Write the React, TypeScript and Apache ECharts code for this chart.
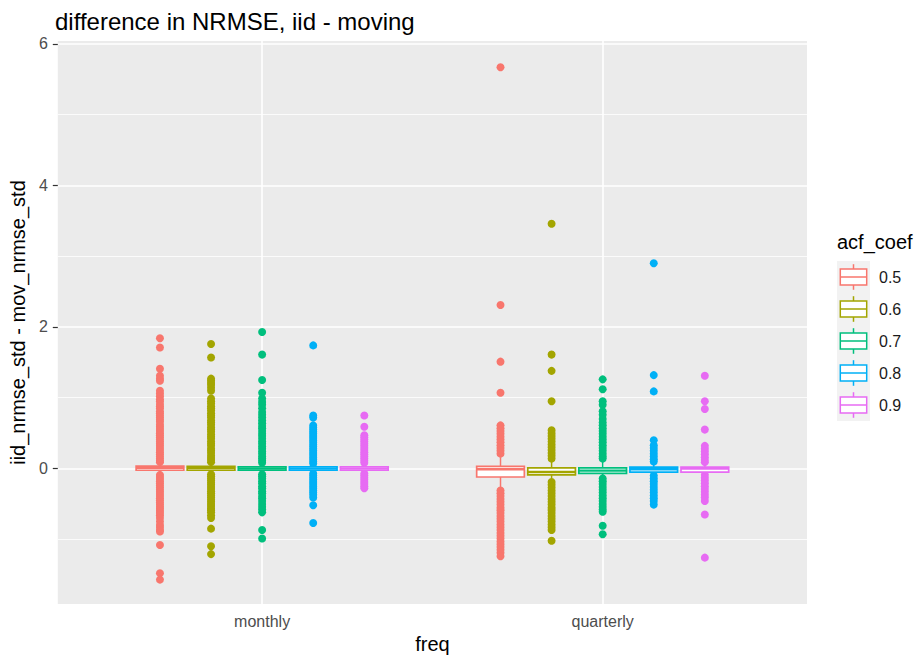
import React, { useEffect, useRef } from "react";
import * as echarts from "echarts";

// ---------- data ----------
const freqCategories = ["monthly", "quarterly"];
const acfLevels = ["0.5", "0.6", "0.7", "0.8", "0.9"];
const levelColors = ["#F8766D", "#A3A500", "#00BF7D", "#00B0F6", "#E76BF3"];
const yMajorTicks = [0, 2, 4, 6];
const yMinorTicks = [-1, 1, 3, 5];

// box statistics per acf level: [lowerWhisker, q1, median, q3, upperWhisker]
const monthlyBoxStats = [
  [-0.07, -0.025, 0.01, 0.035, 0.08],
  [-0.07, -0.025, 0.005, 0.03, 0.08],
  [-0.07, -0.025, 0.0, 0.025, 0.07],
  [-0.06, -0.025, 0.0, 0.025, 0.06],
  [-0.06, -0.025, 0.0, 0.025, 0.06],
];
const quarterlyBoxStats = [
  [-0.28, -0.12, -0.01, 0.03, 0.16],
  [-0.17, -0.09, -0.05, 0.01, 0.12],
  [-0.12, -0.07, -0.03, 0.01, 0.12],
  [-0.08, -0.05, -0.01, 0.02, 0.07],
  [-0.08, -0.05, 0.0, 0.02, 0.07],
];

// outliers, monthly
const monthly05Outliers = [
  1.84, 1.71, 1.41, 1.31, 1.27, 1.24, 1.1, 1.06, 1.02, 0.98, 0.95, 0.91, 0.88, 0.85, 0.81, 0.78, 0.75, 0.72,
  0.69, 0.66, 0.62, 0.59, 0.56, 0.53, 0.5, 0.47, 0.44, 0.41, 0.38, 0.35, 0.32, 0.29, 0.26, 0.23, 0.2, 0.17,
  0.14, 0.11, 0.09, -0.09, -0.12, -0.15, -0.18, -0.21, -0.24, -0.27, -0.3, -0.33, -0.36, -0.39, -0.42, -0.45,
  -0.48, -0.51, -0.54, -0.57, -0.6, -0.63, -0.66, -0.7, -0.75, -0.8, -0.83, -0.87, -0.89, -1.08, -1.48, -1.57,
];
const monthly06Outliers = [
  1.76, 1.57, 1.27, 1.24, 1.21, 1.18, 1.14, 1.1, 0.99, 0.95, 0.92, 0.88, 0.85, 0.82, 0.78, 0.75, 0.72, 0.68,
  0.65, 0.62, 0.58, 0.55, 0.52, 0.48, 0.45, 0.42, 0.38, 0.35, 0.32, 0.28, 0.25, 0.22, 0.18, 0.15, 0.12, 0.09,
  -0.08, -0.11, -0.14, -0.17, -0.2, -0.23, -0.26, -0.29, -0.32, -0.35, -0.38, -0.41, -0.44, -0.47, -0.5, -0.53,
  -0.56, -0.59, -0.62, -0.66, -0.7, -0.85, -1.1, -1.21,
];
const monthly07Outliers = [
  1.93, 1.61, 1.25, 1.07, 0.99, 0.94, 0.9, 0.85, 0.8, 0.76, 0.72, 0.68, 0.64, 0.6, 0.57, 0.53, 0.49, 0.46,
  0.42, 0.38, 0.35, 0.31, 0.28, 0.24, 0.21, 0.17, 0.14, 0.11, 0.08, -0.08, -0.11, -0.14, -0.18, -0.21, -0.25,
  -0.28, -0.32, -0.35, -0.39, -0.42, -0.46, -0.5, -0.54, -0.58, -0.62, -0.87, -0.99,
];
const monthly08Outliers = [
  1.74, 0.75, 0.72, 0.61, 0.58, 0.55, 0.52, 0.49, 0.46, 0.43, 0.4, 0.37, 0.34, 0.31, 0.28, 0.25, 0.22, 0.19,
  0.16, 0.13, 0.1, 0.07, -0.07, -0.1, -0.13, -0.16, -0.19, -0.22, -0.25, -0.28, -0.31, -0.34, -0.37, -0.41,
  -0.52, -0.77,
];
const monthly09Outliers = [
  0.75, 0.59, 0.47, 0.44, 0.41, 0.38, 0.35, 0.32, 0.29, 0.26, 0.23, 0.2, 0.17, 0.14, 0.11, 0.08, -0.07, -0.1,
  -0.13, -0.16, -0.19, -0.22, -0.25, -0.28,
];

// outliers, quarterly
const quarterly05Outliers = [
  5.67, 2.31, 1.51, 1.07, 0.61, 0.57, 0.53, 0.49, 0.45, 0.41, 0.37, 0.33, 0.29, 0.25, 0.21, -0.31, -0.35,
  -0.39, -0.43, -0.47, -0.51, -0.55, -0.59, -0.63, -0.67, -0.71, -0.75, -0.79, -0.83, -0.87, -0.91, -0.95,
  -0.99, -1.03, -1.07, -1.11, -1.15, -1.19, -1.24,
];
const quarterly06Outliers = [
  3.46, 1.61, 1.38, 0.95, 0.54, 0.5, 0.46, 0.42, 0.38, 0.34, 0.3, 0.26, 0.22, 0.18, 0.14, -0.19, -0.23, -0.27,
  -0.31, -0.35, -0.39, -0.43, -0.47, -0.51, -0.55, -0.59, -0.63, -0.67, -0.71, -0.75, -0.79, -0.83, -0.87,
  -1.02,
];
const quarterly07Outliers = [
  1.26, 1.12, 0.95, 0.9, 0.81, 0.76, 0.7, 0.65, 0.61, 0.57, 0.53, 0.49, 0.45, 0.41, 0.37, 0.33, 0.29, 0.25,
  0.21, 0.17, 0.14, -0.14, -0.18, -0.22, -0.26, -0.3, -0.34, -0.38, -0.42, -0.46, -0.5, -0.54, -0.58, -0.61,
  -0.81, -0.93,
];
const quarterly08Outliers = [
  2.9, 1.32, 1.09, 0.4, 0.33, 0.29, 0.25, 0.21, 0.17, 0.13, 0.1, -0.1, -0.14, -0.18, -0.22, -0.26, -0.3, -0.34,
  -0.38, -0.42, -0.46, -0.51,
];
const quarterly09Outliers = [
  1.31, 0.95, 0.84, 0.55, 0.32, 0.28, 0.24, 0.2, 0.16, 0.12, 0.09, -0.09, -0.13, -0.17, -0.21, -0.25, -0.29,
  -0.33, -0.37, -0.41, -0.46, -0.65, -1.26,
];

const monthlyOutliers = [monthly05Outliers, monthly06Outliers, monthly07Outliers, monthly08Outliers, monthly09Outliers];
const quarterlyOutliers = [
  quarterly05Outliers,
  quarterly06Outliers,
  quarterly07Outliers,
  quarterly08Outliers,
  quarterly09Outliers,
];

// ---------- layout / style ----------
const FONT = "Liberation Sans, Arial, Helvetica, sans-serif";
const DODGE = 0.15; // spacing between dodged boxes (x units)
const BOX_W = 0.14; // box width (x units)
const Y_MIN = -1.915;
const Y_MAX = 6.042;
const GRID = { left: 53, right: 110, top: 41, bottom: 53 };

function dodgeX(groupIdx: number, levelIdx: number) {
  return groupIdx + 1 + (levelIdx - (acfLevels.length - 1) / 2) * DODGE;
}

function buildOption() {
  const series: any[] = [];
  acfLevels.forEach((lvl, i) => {
    const pts: number[][] = [];
    monthlyOutliers[i].forEach((v) => pts.push([dodgeX(0, i), v]));
    quarterlyOutliers[i].forEach((v) => pts.push([dodgeX(1, i), v]));
    series.push({
      type: "scatter",
      name: lvl,
      data: pts,
      symbolSize: 8,
      itemStyle: { color: levelColors[i], opacity: 1 },
      z: 2,
      silent: true,
    });
  });
  acfLevels.forEach((lvl, i) => {
    const color = levelColors[i];
    const boxes = [
      [dodgeX(0, i), ...monthlyBoxStats[i]],
      [dodgeX(1, i), ...quarterlyBoxStats[i]],
    ];
    series.push({
      type: "custom",
      name: lvl + " box",
      data: boxes,
      encode: { x: 0, y: [1, 2, 3, 4, 5] },
      z: 3,
      silent: true,
      renderItem: (_params: any, api: any) => {
        const x = api.value(0);
        const lo = api.value(1);
        const q1 = api.value(2);
        const med = api.value(3);
        const q3 = api.value(4);
        const hi = api.value(5);
        const pTL = api.coord([x - BOX_W / 2, q3]);
        const pBR = api.coord([x + BOX_W / 2, q1]);
        const pLo = api.coord([x, lo]);
        const pHi = api.coord([x, hi]);
        const pQ1 = api.coord([x, q1]);
        const pQ3 = api.coord([x, q3]);
        const pML = api.coord([x - BOX_W / 2, med]);
        const pMR = api.coord([x + BOX_W / 2, med]);
        return {
          type: "group",
          children: [
            {
              type: "line",
              shape: { x1: pHi[0], y1: pHi[1], x2: pQ3[0], y2: pQ3[1] },
              style: { stroke: color, lineWidth: 1.5 },
            },
            {
              type: "line",
              shape: { x1: pLo[0], y1: pLo[1], x2: pQ1[0], y2: pQ1[1] },
              style: { stroke: color, lineWidth: 1.5 },
            },
            {
              type: "rect",
              shape: { x: pTL[0], y: pTL[1], width: pBR[0] - pTL[0], height: pBR[1] - pTL[1] },
              style: { fill: "#ffffff", stroke: color, lineWidth: 1.7 },
            },
            {
              type: "line",
              shape: { x1: pML[0], y1: pML[1], x2: pMR[0], y2: pMR[1] },
              style: { stroke: color, lineWidth: 2.4 },
            },
          ],
        };
      },
    });
  });

  // legend drawn as ggplot-style keys
  const legendX = 837;
  const keyW = 33;
  const keyH = 32;
  const keysTop = 261;
  const legendChildren: any[] = [
    {
      type: "text",
      left: legendX,
      top: 232,
      style: { text: "acf_coef", font: `20px ${FONT}`, fill: "#000000" },
    },
    {
      type: "rect",
      shape: { x: legendX, y: keysTop, width: keyW, height: keyH * acfLevels.length },
      style: { fill: "#F2F2F2" },
    },
  ];
  acfLevels.forEach((lvl, i) => {
    const c = levelColors[i];
    const y0 = keysTop + i * keyH;
    const cx = legendX + keyW / 2;
    const bx = legendX + keyW * 0.1;
    const bw = keyW * 0.8;
    legendChildren.push(
      { type: "line", shape: { x1: cx, y1: y0 + keyH * 0.1, x2: cx, y2: y0 + keyH * 0.25 }, style: { stroke: c, lineWidth: 1.5 } },
      { type: "line", shape: { x1: cx, y1: y0 + keyH * 0.75, x2: cx, y2: y0 + keyH * 0.9 }, style: { stroke: c, lineWidth: 1.5 } },
      {
        type: "rect",
        shape: { x: bx, y: y0 + keyH * 0.25, width: bw, height: keyH * 0.5 },
        style: { fill: "#ffffff", stroke: c, lineWidth: 1.5 },
      },
      { type: "line", shape: { x1: bx, y1: y0 + keyH / 2, x2: bx + bw, y2: y0 + keyH / 2 }, style: { stroke: c, lineWidth: 1.5 } },
      {
        type: "text",
        x: legendX + keyW + 9,
        y: y0 + keyH / 2,
        style: { text: lvl, font: `16px ${FONT}`, fill: "#1a1a1a", verticalAlign: "middle", align: "left" },
      }
    );
  });

  return {
    animation: false,
    backgroundColor: "#ffffff",
    textStyle: { fontFamily: FONT },
    title: {
      text: "difference in NRMSE, iid - moving",
      left: 50,
      top: 4,
      textStyle: { fontSize: 24, fontWeight: "normal", color: "#000000", fontFamily: FONT },
    },
    grid: {
      ...GRID,
      show: true,
      backgroundColor: "#EBEBEB",
      borderWidth: 0,
    },
    xAxis: {
      type: "value",
      min: 0.4,
      max: 2.6,
      name: "freq",
      nameLocation: "middle",
      nameGap: 30,
      nameTextStyle: { fontSize: 20, color: "#000000", fontFamily: FONT },
      axisLine: { show: false },
      axisTick: { show: true, customValues: [1, 2], length: 5, lineStyle: { color: "#333333", width: 1.2 } },
      axisLabel: {
        customValues: [1, 2],
        formatter: (v: number) => freqCategories[Math.round(v) - 1] ?? "",
        fontSize: 16,
        color: "#4D4D4D",
        margin: 9,
        fontFamily: FONT,
      },
      splitLine: { show: true, lineStyle: { color: "#ffffff", width: 1.6 } },
    },
    yAxis: [
      {
        type: "value",
        min: Y_MIN,
        max: Y_MAX,
        name: "iid_nrmse_std - mov_nrmse_std",
        nameLocation: "middle",
        nameGap: 26,
        nameTextStyle: { fontSize: 20, color: "#000000", fontFamily: FONT },
        axisLine: { show: false },
        axisTick: { show: true, customValues: yMajorTicks, length: 5, lineStyle: { color: "#333333", width: 1.2 } },
        axisLabel: { customValues: yMajorTicks, fontSize: 16, color: "#4D4D4D", margin: 10, fontFamily: FONT },
        splitLine: { show: true, lineStyle: { color: "#ffffff", width: 1.6 } },
        z: 1,
      },
      {
        type: "value",
        min: Y_MIN,
        max: Y_MAX,
        position: "left",
        axisLine: { show: false },
        axisTick: { show: false, customValues: yMinorTicks },
        axisLabel: { show: false, customValues: yMinorTicks },
        splitLine: { show: true, lineStyle: { color: "#ffffff", width: 0.8 } },
        z: 0,
      },
    ],
    series,
    graphic: [{ type: "group", children: legendChildren }],
  };
}

export default function App() {
  const ref = useRef<HTMLDivElement>(null);
  useEffect(() => {
    if (!ref.current) return;
    const chart = echarts.init(ref.current, undefined, { renderer: "svg" });
    chart.setOption(buildOption() as any);
    return () => chart.dispose();
  }, []);
  return <div ref={ref} style={{ position: "fixed", left: 0, top: 0, width: 917, height: 659 }} />;
}
